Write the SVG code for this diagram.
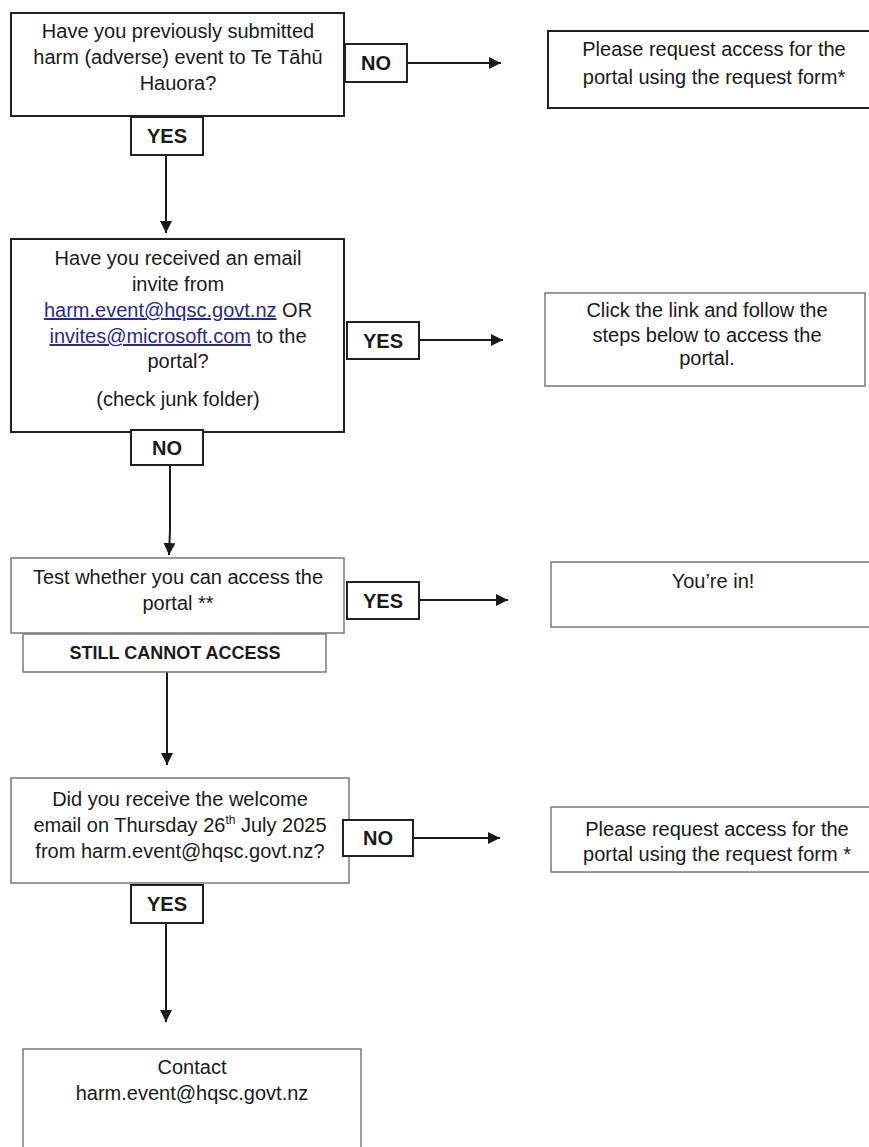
<svg xmlns="http://www.w3.org/2000/svg" width="869" height="1147" viewBox="0 0 869 1147">
<defs>
<style>
text{font-family:"Liberation Sans",Arial,sans-serif;fill:#1a1a1a;text-anchor:middle}
.t{font-size:20px}
.b{font-size:20px;font-weight:bold}
.s{font-size:18px;font-weight:bold}
.dark{fill:#fff;stroke:#222;stroke-width:2}
.gray{fill:#fff;stroke:#7a7a7a;stroke-width:1.5}
.lnk{fill:#2b2b8c;text-decoration:underline}
.c{stroke:#1a1a1a;stroke-width:2;fill:none}
</style>
<marker id="ah" viewBox="0 0 10 10" refX="10" refY="5" markerWidth="6" markerHeight="6" orient="auto" markerUnits="strokeWidth">
<path d="M0,0 L10,5 L0,10 z" fill="#1a1a1a"/>
</marker>
</defs>
<rect width="869" height="1147" fill="#fff"/>

<g id="connectors">
<line class="c" x1="407" y1="63" x2="501" y2="63" marker-end="url(#ah)"/>
<line class="c" x1="166" y1="155" x2="166" y2="233" marker-end="url(#ah)"/>
<line class="c" x1="419" y1="340" x2="503" y2="340" marker-end="url(#ah)"/>
<polyline class="c" points="170,465 170,530 169,555" marker-end="url(#ah)"/>
<line class="c" x1="419" y1="600" x2="508" y2="600" marker-end="url(#ah)"/>
<line class="c" x1="167" y1="672" x2="167" y2="765" marker-end="url(#ah)"/>
<line class="c" x1="413" y1="838" x2="500" y2="838" marker-end="url(#ah)"/>
<line class="c" x1="166" y1="923" x2="166" y2="1022" marker-end="url(#ah)"/>
</g>

<g id="q1">
<rect class="dark" x="11" y="13" width="333" height="103"/>
<text class="t" x="178" y="38">Have you previously submitted</text>
<text class="t" x="178" y="64">harm (adverse) event to Te Tāhū</text>
<text class="t" x="178" y="90">Hauora?</text>
</g>
<g id="q1-no">
<rect class="dark" x="345" y="44" width="62" height="38"/>
<text class="b" x="376" y="70">NO</text>
</g>
<g id="q1-yes">
<rect class="dark" x="131" y="117" width="72" height="38"/>
<text class="b" x="167" y="143">YES</text>
</g>
<g id="r1">
<rect class="dark" x="548" y="31" width="330" height="77"/>
<text class="t" x="714" y="56">Please request access for the</text>
<text class="t" x="714" y="84">portal using the request form*</text>
</g>

<g id="q2">
<rect class="dark" x="11" y="239" width="333" height="193"/>
<text class="t" x="178" y="265">Have you received an email</text>
<text class="t" x="178" y="291">invite from</text>
<text class="t" x="178" y="317"><tspan class="lnk">harm.event@hqsc.govt.nz</tspan> OR</text>
<text class="t" x="178" y="343"><tspan class="lnk">invites@microsoft.com</tspan> to the</text>
<text class="t" x="178" y="368">portal?</text>
<text class="t" x="178" y="406">(check junk folder)</text>
</g>
<g id="q2-yes">
<rect class="dark" x="347" y="322" width="72" height="37"/>
<text class="b" x="383" y="348">YES</text>
</g>
<g id="q2-no">
<rect class="dark" x="131" y="430" width="72" height="35"/>
<text class="b" x="167" y="455">NO</text>
</g>
<g id="r2">
<rect class="gray" x="545" y="293" width="320" height="93"/>
<text class="t" x="707" y="317">Click the link and follow the</text>
<text class="t" x="707" y="342">steps below to access the</text>
<text class="t" x="707" y="365">portal.</text>
</g>

<g id="q3">
<rect class="gray" x="11" y="558" width="333" height="75"/>
<text class="t" x="178" y="584">Test whether you can access the</text>
<text class="t" x="178" y="610">portal **</text>
</g>
<g id="q3-yes">
<rect class="dark" x="347" y="582" width="72" height="37"/>
<text class="b" x="383" y="608">YES</text>
</g>
<g id="q3-still">
<rect class="gray" x="23" y="634" width="303" height="38"/>
<text class="s" x="175" y="659">STILL CANNOT ACCESS</text>
</g>
<g id="r3">
<rect class="gray" x="551" y="562" width="330" height="65"/>
<text class="t" x="713" y="588">You’re in!</text>
</g>

<g id="q4">
<rect class="gray" x="11" y="778" width="338" height="105"/>
<text class="t" x="180" y="806">Did you receive the welcome</text>
<text class="t" x="180" y="832">email on Thursday 26<tspan font-size="12" dy="-8">th</tspan><tspan dy="8"> July 2025</tspan></text>
<text class="t" x="180" y="858">from harm.event@hqsc.govt.nz?</text>
</g>
<g id="q4-no">
<rect class="dark" x="343" y="820" width="70" height="36"/>
<text class="b" x="378" y="845">NO</text>
</g>
<g id="q4-yes">
<rect class="dark" x="131" y="885" width="72" height="38"/>
<text class="b" x="167" y="911">YES</text>
</g>
<g id="r4">
<rect class="gray" x="551" y="807" width="330" height="65"/>
<text class="t" x="717" y="836">Please request access for the</text>
<text class="t" x="717" y="861">portal using the request form *</text>
</g>

<g id="contact">
<rect class="gray" x="23" y="1049" width="338" height="110"/>
<text class="t" x="192" y="1074">Contact</text>
<text class="t" x="192" y="1100">harm.event@hqsc.govt.nz</text>
</g>
</svg>
